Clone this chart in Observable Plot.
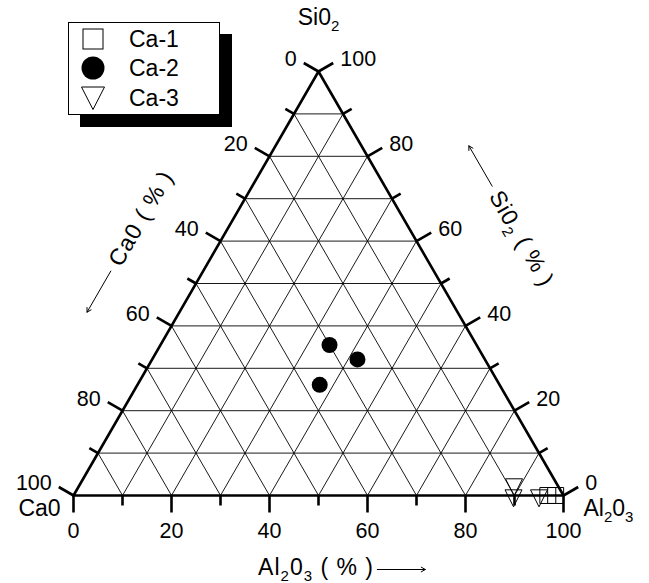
<!DOCTYPE html>
<html><head><meta charset="utf-8">
<script src="https://cdn.jsdelivr.net/npm/d3@7"></script>
<script src="https://cdn.jsdelivr.net/npm/@observablehq/plot@0.6"></script>
<style>
body{margin:0;background:#fff;}
#wrap{position:relative;width:649px;height:583px;font-family:"Liberation Sans",Arial,sans-serif;}
#legend{position:absolute;left:68px;top:22px;width:150px;height:91px;border:1px solid #000;background:#fff;box-shadow:12px 12px 0 #000;}
.row{position:absolute;left:0;height:30px;display:flex;align-items:center;}
.row svg{display:block;margin-left:12px;}
.row span{margin-left:24px;font-size:23px;color:#000;}
</style></head><body><div id="wrap"><div id="legend"></div></div>
<script>
// ---- data: [CaO %, Al2O3 %, SiO2 %] ----
const seriesNames = ["Ca-1", "Ca-2", "Ca-3"];
const ca1 = [[3.2, 96.8, 0], [1.6, 98.4, 0]];
const ca2 = [[30.0, 34.5, 35.5], [26.0, 41.9, 32.1], [36.7, 37.2, 26.1]];
const ca3 = [[8.8, 88.6, 2.6], [10.2, 89.8, 0], [5.0, 95.0, 0]];
const majorTicks = [0, 20, 40, 60, 80, 100];
const minorTicks = [10, 30, 50, 70, 90];
const gridSteps = [10, 20, 30, 40, 50, 60, 70, 80, 90];
const vertexTop = "Si0₂", vertexLeft = "Ca0", vertexRight = "Al₂0₃";
const titleLeft = "Ca0 ( % )", titleRight = "Si0₂ ( % )", titleBottom = "Al₂0₃ ( % )";

// ---- geometry ----
const W = 649, H = 583, mL = 73, mR = 86, mT = 71, mB = 88;
const S3 = Math.sqrt(3) / 2;
const kx = (W - mL - mR) / 1, ky = (H - mT - mB) / S3;
function tern(a, b, c) { const s = a + b + c; return [(b + c / 2) / s, (c * S3) / s]; }
const bottomPt = v => tern(100 - v, v, 0);
const leftPt = v => tern(v, 0, 100 - v);
const rightPt = v => tern(0, 100 - v, v);
const nB = [0, -1], nL = [-S3, 0.5], nR = [S3, 0.5];
function off(p, n, L) { return [p[0] + n[0] * L / kx, p[1] + n[1] * L / ky]; }

const outline = [tern(100,0,0), tern(0,100,0), tern(0,0,100), tern(100,0,0)].map(([x,y]) => ({x, y}));
const grid = [];
for (const v of gridSteps) {
  const s1 = tern(100 - v, 0, v), s2 = tern(0, 100 - v, v); // constant SiO2
  const a1 = tern(100 - v, v, 0), a2 = tern(0, v, 100 - v); // constant Al2O3
  const c1 = tern(v, 100 - v, 0), c2 = tern(v, 0, 100 - v); // constant CaO
  for (const [p, q] of [[s1, s2], [a1, a2], [c1, c2]]) grid.push({x1: p[0], y1: p[1], x2: q[0], y2: q[1]});
}
const axes = [
  {pt: bottomPt, n: nB}, {pt: leftPt, n: nL}, {pt: rightPt, n: nR}
];
const ticks = [];
for (const ax of axes) {
  for (const v of majorTicks) { const p = ax.pt(v), q = off(p, ax.n, 17); ticks.push({x1: p[0], y1: p[1], x2: q[0], y2: q[1]}); }
  for (const v of minorTicks) { const p = ax.pt(v), q = off(p, ax.n, 10); ticks.push({x1: p[0], y1: p[1], x2: q[0], y2: q[1]}); }
}
const lab = (ax) => majorTicks.map(v => { const q = off(ax.pt(v), ax.n, 17); return {x: q[0], y: q[1], t: String(v)}; });
const labB = lab(axes[0]), labL = lab(axes[1]), labR = lab(axes[2]);

const toXY = arr => arr.map(([a, b, c]) => { const [x, y] = tern(a, b, c); return {x, y}; });

const triDown = {draw(ctx, size) { const r = Math.sqrt(size / Math.PI); const h = 2 * r; ctx.moveTo(-r, -h / 3); ctx.lineTo(r, -h / 3); ctx.lineTo(0, 2 * h / 3); ctx.closePath(); }};

// axis titles & arrows
const tL = off(leftPt(44.1), nL, 80), tR = off(rightPt(49.7), nR, 92), tB = off(bottomPt(49.5), nB, 72);
const arrL = [off(leftPt(56.5), nL, 80), off(leftPt(66.2), nL, 80)];
const arrR = [off(rightPt(62), nR, 93), off(rightPt(71.5), nR, 93)];
const arrB = [off(bottomPt(62), nB, 74), off(bottomPt(71.8), nB, 74)];
const arrows = [arrL, arrR, arrB].map(([p, q]) => ({x1: p[0], y1: p[1], x2: q[0], y2: q[1]}));

const vTop = tern(0, 0, 100), vLeft = tern(100, 0, 0), vRight = tern(0, 100, 0);
const FS = 21.5, FT = 23;

const chart = Plot.plot({
  width: W, height: H, marginLeft: mL, marginRight: mR, marginTop: mT, marginBottom: mB,
  x: {domain: [0, 1], axis: null}, y: {domain: [0, S3], axis: null},
  style: {fontFamily: "'Liberation Sans', Arial, sans-serif", fontSize: FS + "px", background: "white", overflow: "visible", color: "#000"},
  marks: [
    Plot.link(grid, {x1: "x1", y1: "y1", x2: "x2", y2: "y2", stroke: "#000", strokeWidth: 0.9}),
    Plot.link(ticks, {x1: "x1", y1: "y1", x2: "x2", y2: "y2", stroke: "#000", strokeWidth: 2.6, strokeLinecap: "butt"}),
    Plot.line(outline, {x: "x", y: "y", stroke: "#000", strokeWidth: 2.6, strokeLinejoin: "miter"}),
    Plot.text(labB, {x: "x", y: "y", text: "t", textAnchor: "middle", dy: 19, fontSize: FS, fill: "#000"}),
    Plot.text(labL, {x: "x", y: "y", text: "t", textAnchor: "end", dx: -7, dy: -3.5, fontSize: FS, fill: "#000"}),
    Plot.text(labR, {x: "x", y: "y", text: "t", textAnchor: "start", dx: 7, dy: -3.5, fontSize: FS, fill: "#000"}),
    Plot.text([{x: vTop[0], y: vTop[1], t: vertexTop}], {x: "x", y: "y", text: "t", textAnchor: "middle", dy: -54, fontSize: FT, fill: "#000"}),
    Plot.text([{x: vLeft[0], y: vLeft[1], t: vertexLeft}], {x: "x", y: "y", text: "t", textAnchor: "middle", dx: -34, dy: 13, fontSize: FT, fill: "#000"}),
    Plot.text([{x: vRight[0], y: vRight[1], t: vertexRight}], {x: "x", y: "y", text: "t", textAnchor: "start", dx: 20, dy: 13, fontSize: FT, fill: "#000"}),
    Plot.text([{x: tL[0], y: tL[1], t: titleLeft}], {x: "x", y: "y", text: "t", rotate: -60, textAnchor: "middle", fontSize: FT, fill: "#000", className: "axtitle"}),
    Plot.text([{x: tR[0], y: tR[1], t: titleRight}], {x: "x", y: "y", text: "t", rotate: 60, textAnchor: "middle", fontSize: FT, fill: "#000", className: "axtitle"}),
    Plot.text([{x: tB[0], y: tB[1], t: titleBottom}], {x: "x", y: "y", text: "t", textAnchor: "middle", fontSize: FT, fill: "#000", className: "axtitle"}),
    Plot.arrow(arrows, {x1: "x1", y1: "y1", x2: "x2", y2: "y2", stroke: "#000", strokeWidth: 1, headLength: 7}),
    Plot.dot(toXY(ca1), {x: "x", y: "y", symbol: "square", r: 9, stroke: "#000", strokeWidth: 1, fill: "none"}),
    Plot.dot(toXY(ca2), {x: "x", y: "y", symbol: "circle", r: 8, fill: "#000", stroke: "none"}),
    Plot.dot(toXY(ca3), {x: "x", y: "y", symbol: triDown, r: 8.5, stroke: "#000", strokeWidth: 1, fill: "none"})
  ]
});

d3.select(chart).selectAll(".axtitle text").style("letter-spacing", "1px");

// subscripts (₂ ₃) rendered as real subscript tspans
const subMap = {"₀":"0","₁":"1","₂":"2","₃":"3","₄":"4","₅":"5","₆":"6","₇":"7","₈":"8","₉":"9"};
d3.select(chart).selectAll("text").each(function () {
  const t = this.textContent;
  if (!/[₀-₉]/.test(t)) return;
  const el = d3.select(this);
  el.text(null);
  let shift = 0;
  for (const p of t.split(/([₀-₉]+)/)) {
    if (!p) continue;
    const isSub = /[₀-₉]/.test(p);
    const target = isSub ? 6 : 0;
    const ts = el.append("tspan").text(isSub ? [...p].map(ch => subMap[ch]).join("") : p);
    if (target - shift !== 0) ts.attr("dy", (target - shift) + "px");
    if (isSub) ts.style("font-size", "15px");
    shift = target;
  }
});
document.getElementById("wrap").prepend(chart);

// legend
const legend = document.getElementById("legend");
const symSvg = [
  '<svg width="24" height="24"><rect x="2" y="2" width="20" height="20" fill="none" stroke="#000" stroke-width="1"/></svg>',
  '<svg width="24" height="24"><circle cx="12" cy="12" r="11.5" fill="#000"/></svg>',
  '<svg width="24" height="24"><path d="M0.5,1 L23.5,1 L12,23.5 Z" fill="none" stroke="#000" stroke-width="1"/></svg>'
];
const rowTops = [1, 30, 60];
seriesNames.forEach((name, i) => {
  const row = document.createElement("div");
  row.className = "row";
  row.style.top = rowTops[i] + "px";
  row.innerHTML = symSvg[i] + "<span>" + name + "</span>";
  legend.appendChild(row);
});
</script>
</body></html>
